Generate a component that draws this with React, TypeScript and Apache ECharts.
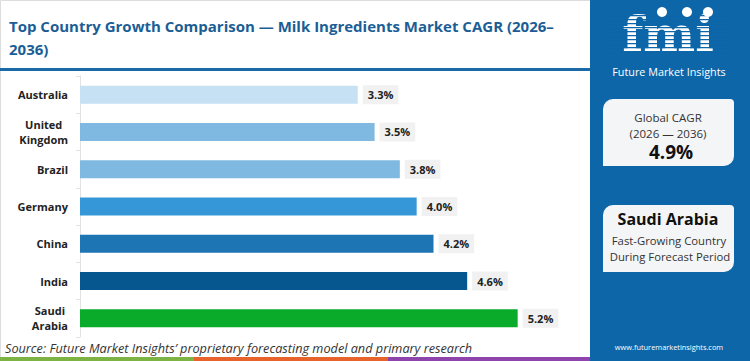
import React, { useEffect, useRef } from "react";
import * as echarts from "echarts";

const categories = ["Australia", "United Kingdom", "Brazil", "Germany", "China", "India", "Saudi Arabia"];
const cagrValues = [3.3, 3.5, 3.8, 4.0, 4.2, 4.6, 5.2];
const barColors = ["#c5e1f3", "#7fb9e1", "#7fb9e1", "#3597d8", "#1e75b4", "#06568f", "#0aab2b"];
const titleLines = ["Top Country Growth Comparison — Milk Ingredients Market CAGR (2026–", "2036)"];
const sourceText = "Source: Future Market Insights’ proprietary forecasting model and primary research";
const globalCagrLabel = ["Global CAGR", "(2026 — 2036)"];
const globalCagrValue = "4.9%";
const leaderCountry = "Saudi Arabia";
const leaderNote = ["Fast-Growing Country", "During Forecast Period"];
const websiteText = "www.futuremarketinsights.com";
const brandText = "Future Market Insights";

const FONT = "'Open Sans', 'Noto Sans', sans-serif";
const PANEL = "#0d66a8";

export default function App() {
  const ref = useRef<HTMLDivElement>(null);
  useEffect(() => {
    if (!ref.current) return;
    const chart = echarts.init(ref.current, undefined, { renderer: "svg" });

    const stripes: any[] = [];
    for (let y = 15; y < 55; y += 4) {
      stripes.push({ type: "rect", shape: { x: 608, y, width: 122, height: 1.3 }, style: { fill: PANEL }, z: 12 });
    }

    chart.setOption({
      animation: false,
      backgroundColor: "#ffffff",
      grid: { left: 80, right: 165, top: 76, bottom: 24 },
      xAxis: { type: "value", min: 0, max: 6, show: false },
      yAxis: {
        type: "category",
        data: categories,
        inverse: true,
        axisLine: { show: true, lineStyle: { color: "#e2e2e2", width: 1 } },
        axisTick: { show: true, length: 4, lineStyle: { color: "#e2e2e2" } },
        axisLabel: {
          margin: 12,
          formatter: (v: string) => v.split(" ").map((w) => `{c|${w}}`).join("\n"),
          rich: {
            c: { align: "center", fontFamily: FONT, fontWeight: "bold", fontSize: 11, color: "#222", lineHeight: 15 },
          },
        },
        splitLine: { show: false },
      },
      series: [
        {
          type: "bar",
          data: cagrValues.map((v, i) => ({ value: v, itemStyle: { color: barColors[i] } })),
          barWidth: 18,
          label: {
            show: true,
            position: "right",
            distance: 5,
            formatter: (p: any) => `${Number(p.value).toFixed(1)}%`,
            backgroundColor: "#f1f1f1",
            padding: [4, 5, 4, 5],
            fontFamily: FONT,
            fontWeight: "bold",
            fontSize: 11,
            lineHeight: 11,
            color: "#222",
          },
        },
      ],
      graphic: [
        { type: "rect", shape: { x: 0.5, y: 0.5, width: 590, height: 360 }, style: { fill: "none", stroke: "#dddddd", lineWidth: 1 }, z: 1 },
        { type: "text", left: 9, top: 14, style: { text: titleLines.join("\n"), fontFamily: FONT, fontWeight: "bold", fontSize: 15, lineHeight: 23, fill: "#1b5e95" }, z: 5 },
        { type: "rect", shape: { x: 0, y: 68, width: 590, height: 3 }, style: { fill: "#1a69a8" }, z: 5 },
        { type: "text", left: 5, top: 341, style: { text: sourceText, fontFamily: FONT, fontStyle: "italic", fontSize: 12.7, fill: "#333" }, z: 5 },
        { type: "rect", shape: { x: 0, y: 357, width: 194, height: 4 }, style: { fill: "#7cb342" }, z: 5 },
        { type: "rect", shape: { x: 194, y: 357, width: 194, height: 4 }, style: { fill: "#e8622c" }, z: 5 },
        { type: "rect", shape: { x: 388, y: 357, width: 202, height: 4 }, style: { fill: "#8e44ad" }, z: 5 },
        // right panel
        { type: "rect", shape: { x: 590, y: 0, width: 160, height: 361 }, style: { fill: PANEL }, z: 10 },
        { type: "text", x: 668, y: 34, style: { text: "fmi", fontFamily: "'DejaVu Serif', serif", fontWeight: "bold", fontSize: 49, lineHeight: 44, fill: "#ffffff", align: "center", verticalAlign: "middle" }, z: 11 },
        ...stripes,
        { type: "circle", shape: { cx: 662, cy: 12, r: 5 }, style: { fill: "#ffffff" }, z: 13 },
        { type: "circle", shape: { cx: 687, cy: 12, r: 5 }, style: { fill: "#ffffff" }, z: 13 },
        { type: "circle", shape: { cx: 708, cy: 12, r: 5 }, style: { fill: "#ffffff" }, z: 13 },
        { type: "text", x: 669, y: 71, style: { text: brandText, fontFamily: FONT, fontSize: 10.8, fill: "#ffffff", align: "center", verticalAlign: "middle" }, z: 13 },
        { type: "rect", shape: { x: 603, y: 99, width: 131, height: 67, r: [10, 4, 10, 0] }, style: { fill: "#f4f5f7" }, z: 13 },
        { type: "text", x: 668, y: 117, style: { text: globalCagrLabel[0], fontFamily: FONT, fontSize: 11.5, fill: "#333", align: "center", verticalAlign: "middle" }, z: 14 },
        { type: "text", x: 668, y: 133, style: { text: globalCagrLabel[1], fontFamily: FONT, fontSize: 11.5, fill: "#333", align: "center", verticalAlign: "middle" }, z: 14 },
        { type: "text", x: 671, y: 152, style: { text: globalCagrValue, fontFamily: FONT, fontWeight: "bold", fontSize: 19, fill: "#111", align: "center", verticalAlign: "middle" }, z: 14 },
        { type: "rect", shape: { x: 603, y: 205, width: 131, height: 67, r: [10, 4, 10, 0] }, style: { fill: "#f4f5f7" }, z: 13 },
        { type: "text", x: 668, y: 219, style: { text: leaderCountry, fontFamily: FONT, fontWeight: "bold", fontSize: 16, fill: "#111", align: "center", verticalAlign: "middle" }, z: 14 },
        { type: "text", x: 669, y: 240, style: { text: leaderNote[0], fontFamily: FONT, fontSize: 11.3, fill: "#333", align: "center", verticalAlign: "middle" }, z: 14 },
        { type: "text", x: 670, y: 256, style: { text: leaderNote[1], fontFamily: FONT, fontSize: 11.3, fill: "#333", align: "center", verticalAlign: "middle" }, z: 14 },
        { type: "text", x: 669, y: 347, style: { text: websiteText, fontFamily: FONT, fontSize: 7.4, fill: "#ffffff", align: "center", verticalAlign: "middle" }, z: 14 },
      ],
    });
    return () => chart.dispose();
  }, []);
  return <div ref={ref} style={{ position: "fixed", left: 0, top: 0, width: 750, height: 361 }} />;
}
